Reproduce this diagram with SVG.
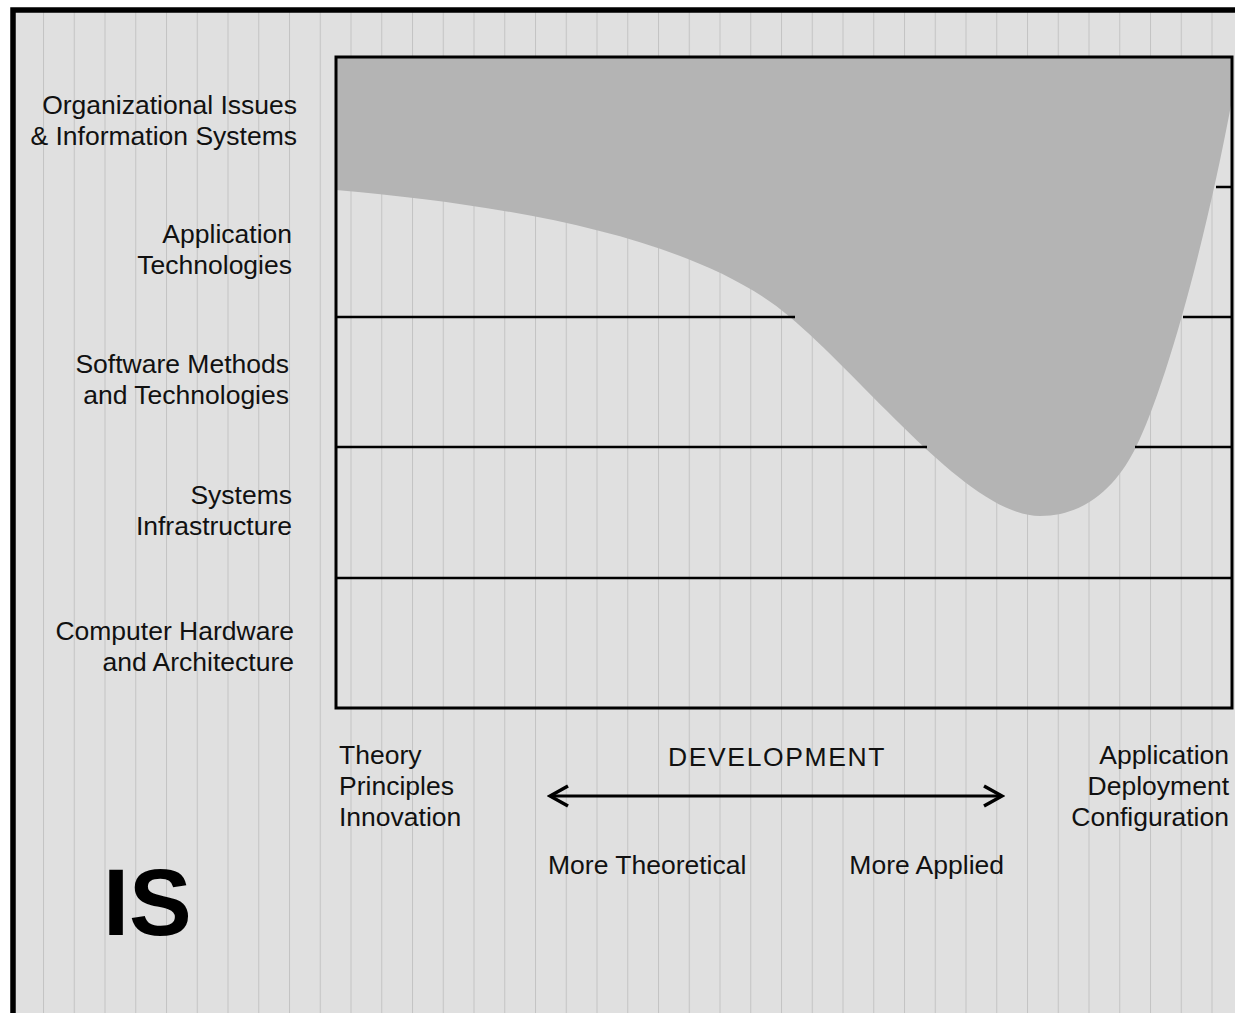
<svg xmlns="http://www.w3.org/2000/svg" width="1235" height="1013" viewBox="0 0 1235 1013">
<defs>
<pattern id="stripes" patternUnits="userSpaceOnUse" x="43" y="0" width="30.75" height="20">
<rect x="0" y="0" width="30.75" height="20" fill="#e0e0e0"/>
<rect x="0" y="0" width="1" height="20" fill="#c4c4c4"/>
</pattern>
<marker id="chev" viewBox="0 0 24 24" refX="21" refY="12" markerWidth="24" markerHeight="24" markerUnits="userSpaceOnUse" orient="auto-start-reverse">
<path d="M3,2 L21,12 L3,22" fill="none" stroke="#000" stroke-width="3.5"/>
</marker>
<style>
.lbl{font-family:"Liberation Sans",Arial,sans-serif;font-size:26.5px;fill:#111}
.r{text-anchor:end}
.grid{stroke:#000;stroke-width:2.5;fill:none}
</style>
</defs>
<rect x="0" y="0" width="1235" height="1013" fill="#fff"/>
<rect x="13" y="10" width="1240" height="1020" fill="url(#stripes)" stroke="#000" stroke-width="5.5"/>

<g id="chart">
<path id="spread" d="M336,57 L1232,57 L1232,100 C1202,260 1162,395 1136,447 C1120,480 1090,516 1040,516 C970,516 870,385 790,317 C700,240 520,206 336,190 Z" fill="#b4b4b4"/>
<line class="grid" x1="1216" y1="187" x2="1232" y2="187"/>
<line class="grid" x1="336" y1="317" x2="795" y2="317"/>
<line class="grid" x1="1183" y1="317" x2="1232" y2="317"/>
<line class="grid" x1="336" y1="447" x2="927" y2="447"/>
<line class="grid" x1="1135" y1="447" x2="1232" y2="447"/>
<line class="grid" x1="336" y1="578" x2="1232" y2="578"/>
<rect x="336" y="57" width="896" height="651" fill="none" stroke="#000" stroke-width="3"/>
</g>

<g id="row-org"><text class="lbl r" x="297" y="114">Organizational Issues</text><text class="lbl r" x="297" y="145">&amp; Information Systems</text></g>
<g id="row-app"><text class="lbl r" x="292" y="243">Application</text><text class="lbl r" x="292" y="274">Technologies</text></g>
<g id="row-sw"><text class="lbl r" x="289" y="373">Software Methods</text><text class="lbl r" x="289" y="404">and Technologies</text></g>
<g id="row-sys"><text class="lbl r" x="292" y="504">Systems</text><text class="lbl r" x="292" y="535">Infrastructure</text></g>
<g id="row-hw"><text class="lbl r" x="294" y="640">Computer Hardware</text><text class="lbl r" x="294" y="671">and Architecture</text></g>

<g id="theory"><text class="lbl" x="339" y="764">Theory</text><text class="lbl" x="339" y="795">Principles</text><text class="lbl" x="339" y="826">Innovation</text></g>
<g id="development"><text class="lbl" x="777" y="766" text-anchor="middle" letter-spacing="1.6">DEVELOPMENT</text></g>
<g id="applied-end"><text class="lbl r" x="1229" y="764">Application</text><text class="lbl r" x="1229" y="795">Deployment</text><text class="lbl r" x="1229" y="826">Configuration</text></g>
<g id="more-theoretical"><text class="lbl" x="548" y="874">More Theoretical</text></g>
<g id="more-applied"><text class="lbl r" x="1004" y="874">More Applied</text></g>
<g id="is-label"><text x="103" y="935" font-family="Liberation Sans,Arial,sans-serif" font-weight="bold" font-size="94" fill="#000">IS</text></g>

<g id="connectors">
<line x1="550" y1="796" x2="1002" y2="796" stroke="#000" stroke-width="3" marker-start="url(#chev)" marker-end="url(#chev)"/>
</g>
</svg>
